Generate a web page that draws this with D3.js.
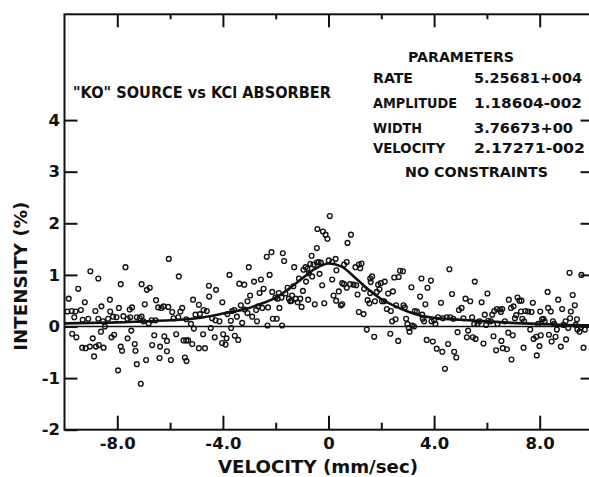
<!DOCTYPE html>
<html><head><meta charset="utf-8">
<script src="https://cdn.jsdelivr.net/npm/d3@7"></script>
<style>body{margin:0;background:#fff;} svg{display:block;}</style>
</head><body><svg id="c" width="589" height="477"></svg>
<script>
const xTickValues = [-8, -4, 0, 4, 8];
const xTickLabels = ["-8.0", "-4.0", "0", "4.0", "8.0"];
const xMinorTicks = [-6, -2, 2, 6];
const yTickValues = [-2, -1, 0, 1, 2, 3, 4];
const yTickLabels = ["-2", "-1", "0", "1", "2", "3", "4"];
const rightTickValues = [-1, 0, 1, 2, 3, 4];
const chartTitle = '"KO" SOURCE vs KCl ABSORBER';
const xTitle = "VELOCITY  (mm/sec)";
const yTitle = "INTENSITY  (%)";
const paramHeader = "PARAMETERS";
const paramNames = ["RATE", "AMPLITUDE", "WIDTH", "VELOCITY"];
const paramValues = ["5.25681+004", "1.18604-002", "3.76673+00", "2.17271-002"];
const paramFooter = "NO CONSTRAINTS";

// measured points: [velocity mm/sec, intensity %]
const spectrumLeft = [[-9.84,0.54],[-9.89,0.29],[-9.73,0.30],[-9.58,0.29],[-9.48,0.73],[-9.38,0.32],[-9.63,0.18],[-9.71,-0.14],[-9.55,-0.21],[-9.33,-0.41],[-9.20,-0.42],[-9.04,-0.39],[-8.88,-0.58],[-8.93,-0.23],[-9.02,1.07],[-8.72,0.93],[-9.23,0.47],[-9.31,0.13],[-9.10,0.15],[-8.83,0.30],[-8.60,0.39],[-8.72,0.15],[-8.81,-0.39],[-8.70,-0.36],[-8.52,-0.41],[-8.62,-0.10],[-8.47,0.00],[-8.54,0.10],[-8.35,0.15],[-8.27,0.29],[-8.28,0.52],[-8.16,0.19],[-8.03,0.18],[-8.22,-0.21],[-8.12,-0.16],[-7.94,0.36],[-7.87,0.82],[-7.69,1.15],[-7.77,0.20],[-7.61,0.15],[-7.51,0.18],[-7.53,0.33],[-7.44,0.37],[-7.47,-0.08],[-7.61,-0.23],[-7.87,-0.39],[-7.82,-0.47],[-7.97,-0.85],[-7.34,-0.34],[-7.31,-0.47],[-7.26,-0.73],[-7.11,-1.11],[-7.26,0.18],[-7.08,0.19],[-7.15,0.16],[-7.01,0.10],[-7.08,0.82],[-6.96,0.43],[-6.88,0.71],[-6.77,0.75],[-6.81,0.06],[-6.70,0.12],[-6.91,-0.65],[-6.60,-0.17],[-6.68,-0.36],[-6.53,0.51],[-6.45,0.37],[-6.33,0.36],[-6.25,0.39],[-6.07,0.38],[-6.55,0.12],[-6.38,-0.39],[-6.40,-0.61],[-6.22,-0.19],[-6.12,-0.28],[-6.12,-0.48],[-5.97,-0.65],[-6.05,1.31],[-5.92,0.28],[-5.87,0.16],[-5.69,0.18],[-5.61,0.29],[-5.54,0.36],[-5.67,0.97],[-5.39,0.14],[-5.77,-0.15],[-5.49,-0.27],[-5.39,-0.27],[-5.32,-0.27],[-5.44,-0.60],[-5.38,-0.67],[-5.16,-0.34],[-5.21,0.05],[-5.10,-0.04],[-5.13,0.52],[-5.04,0.23]];
const spectrumMidLeft = [[-4.91,0.42],[-4.87,0.24],[-4.73,0.32],[-4.61,0.30],[-4.75,-0.15],[-4.91,-0.42],[-4.68,-0.42],[-4.53,0.79],[-4.52,0.58],[-4.46,-0.03],[-4.41,0.16],[-4.31,-0.21],[-4.26,0.71],[-4.28,0.12],[-4.13,0.10],[-4.02,0.47],[-3.99,-0.15],[-4.03,-0.32],[-3.90,-0.35],[-3.86,-0.23],[-3.75,1.00],[-3.83,0.24],[-3.70,0.11],[-3.65,0.30],[-3.69,-0.03],[-3.57,0.32],[-3.55,-0.18],[-3.42,-0.26],[-3.47,0.19],[-3.38,0.83],[-3.32,0.41],[-3.27,0.07],[-3.19,0.81],[-3.17,0.33],[-3.07,0.49],[-3.02,1.15],[-2.97,0.60],[-3.07,0.26],[-2.89,0.19],[-2.82,0.87],[-2.71,0.10],[-2.74,0.32],[-2.66,0.39],[-2.56,0.91],[-2.61,0.65],[-2.51,0.36],[-2.46,0.73],[-2.34,1.35],[-2.16,1.44],[-2.23,1.00],[-2.29,0.37],[-2.31,0.02],[-2.11,0.15],[-2.13,0.67],[-1.96,0.15],[-1.88,0.65],[-1.93,0.54],[-2.01,0.56],[-1.86,0.36],[-1.76,0.02],[-1.73,1.42],[-1.68,1.27],[-1.78,0.56],[-1.63,0.64],[-1.55,0.75],[-1.50,0.54],[-1.45,0.49],[-1.40,0.50],[-1.38,0.60],[-1.30,1.15],[-1.33,0.78],[-1.25,0.54],[-1.17,0.47],[-1.12,0.93],[-1.07,0.54],[-1.02,0.38],[-0.97,0.69],[-0.95,1.10],[-0.87,1.15],[-0.80,1.12],[-0.85,0.87],[-0.74,1.03],[-0.77,0.52],[-0.69,1.21],[-0.64,1.37],[-0.62,0.97],[-0.57,1.20],[-0.52,0.43],[-0.44,1.24],[-0.44,1.52],[-0.37,1.25],[-0.29,1.24],[-0.34,1.02],[-0.24,0.80],[-0.16,0.45],[-0.42,1.89],[-0.21,1.84],[-0.11,1.78]];
const spectrumMidRight = [[-0.04,1.70],[0.05,2.14],[0.01,1.28],[0.14,1.25],[0.27,1.31],[0.30,1.09],[0.14,0.91],[0.19,0.60],[0.29,0.50],[0.39,0.68],[0.47,0.41],[0.52,0.43],[0.52,0.84],[0.59,1.20],[0.69,1.25],[0.59,0.82],[0.72,1.62],[0.85,1.78],[0.69,0.75],[0.82,0.82],[0.95,0.81],[1.02,1.15],[1.10,0.62],[1.05,0.80],[1.15,1.20],[1.20,1.13],[1.25,1.22],[1.15,0.28],[1.33,0.24],[1.35,0.73],[1.48,0.51],[1.45,-0.06],[1.55,0.45],[1.58,0.65],[1.60,0.86],[1.65,0.97],[1.58,0.93],[1.73,-0.20],[1.76,0.49],[1.83,0.67],[1.88,0.81],[1.93,0.72],[1.98,0.84],[2.03,0.49],[2.13,0.87],[2.11,0.49],[2.21,0.34],[2.26,0.64],[2.34,-0.14],[2.36,0.30],[2.44,0.68],[2.41,0.10],[2.49,0.95],[2.54,0.14],[2.64,-0.28],[2.56,0.41],[2.66,0.96],[2.71,1.08],[2.82,1.07],[2.84,0.41],[2.89,0.37],[2.94,0.15],[2.99,0.05],[3.04,-0.03],[3.07,-0.10],[3.17,0.02],[3.24,0.00],[3.14,0.76],[3.27,0.30],[3.35,0.29],[3.47,0.58],[3.52,0.93],[3.55,0.23],[3.57,0.15],[3.62,0.10],[3.67,0.43],[3.72,-0.26],[3.75,0.75],[3.88,0.89],[3.90,0.10],[3.95,-0.29],[4.00,0.12],[4.05,0.05],[4.10,-0.43],[4.15,0.18],[4.26,0.46],[4.31,-0.49],[4.33,0.16],[4.41,-0.82],[4.48,0.18],[4.58,1.11],[4.61,0.18],[4.53,-0.34],[4.68,0.63],[4.73,0.15],[4.76,-0.49],[4.84,-0.60]];
const spectrumRight = [[4.89,-0.11],[4.94,0.32],[5.04,0.36],[5.11,0.16],[5.19,0.54],[5.24,-0.21],[5.29,-0.08],[5.37,0.49],[5.44,0.18],[5.47,-0.21],[5.54,0.87],[5.57,-0.24],[5.52,0.05],[5.64,0.05],[5.72,0.10],[5.80,0.47],[5.87,-0.33],[5.92,0.23],[5.97,0.03],[6.02,0.64],[6.05,0.11],[6.15,0.10],[6.20,0.23],[6.25,-0.19],[6.28,0.30],[6.35,-0.46],[6.38,0.34],[6.40,0.05],[6.50,0.33],[6.53,0.28],[6.55,-0.28],[6.60,-0.42],[6.58,0.34],[6.68,0.10],[6.76,-0.44],[6.81,-0.12],[6.83,0.52],[6.91,0.36],[6.93,-0.64],[6.98,-0.17],[7.01,0.39],[7.06,0.16],[7.11,0.22],[7.16,0.56],[7.23,0.50],[7.29,0.29],[7.31,0.50],[7.39,-0.41],[7.34,0.15],[7.41,0.10],[7.46,0.30],[7.56,0.29],[7.64,-0.06],[7.69,0.28],[7.74,0.46],[7.77,-0.24],[7.87,-0.20],[7.89,-0.56],[7.94,0.05],[7.99,-0.38],[8.02,0.29],[8.04,-0.17],[8.09,0.14],[8.14,0.15],[8.19,0.10],[8.30,0.67],[8.32,0.36],[8.35,-0.16],[8.42,0.29],[8.45,-0.29],[8.50,0.10],[8.55,0.05],[8.60,-0.20],[8.65,-0.06],[8.70,0.52],[8.80,-0.39],[8.85,0.34],[8.90,0.03],[8.98,0.10],[9.00,-0.25],[9.08,-0.03],[9.13,1.04],[9.15,0.16],[9.18,0.29],[9.25,0.61],[9.33,0.41],[9.36,0.03],[9.41,0.14],[9.43,-0.06],[9.51,-0.10],[9.56,-0.02],[9.58,1.00],[9.66,-0.41],[9.71,-0.06]];

// fitted curve: [velocity, intensity]
const fitCurve = [[-10,0.06],[-9,0.07],[-8,0.08],[-7,0.10],[-6,0.12],[-5,0.16],[-4,0.25],[-3,0.36],[-2.5,0.45],[-2,0.56],[-1.5,0.73],[-1,0.93],[-0.5,1.12],[0,1.22],[0.5,1.16],[1,0.95],[1.5,0.72],[2,0.53],[2.5,0.40],[3,0.29],[3.5,0.21],[4,0.17],[5,0.13],[6,0.10],[7,0.07],[8,0.05],[9,0.03],[10,0.02]];

const FONT = "'DejaVu Sans', 'Liberation Sans', sans-serif";
const svg = d3.select("#c");
const x = d3.scaleLinear().domain([-10, 10]).range([64.5, 592.5]);
const y = d3.scaleLinear().domain([-2, 6.05]).range([429.7, 14.3]);

function styleAxis(g, fs) {
  g.select(".domain").remove();
  g.selectAll("line").attr("stroke", "#111").attr("stroke-width", 2);
  g.selectAll("text").attr("font-family", FONT).attr("font-weight", "bold")
    .attr("font-size", fs).attr("fill", "#111");
}

// frame
svg.append("rect").attr("x", x(-10)).attr("y", y(6.05))
  .attr("width", x(10) - x(-10)).attr("height", y(-2) - y(6.05))
  .attr("fill", "none").attr("stroke", "#111").attr("stroke-width", 2);

// bottom axis
svg.append("g").attr("transform", `translate(0,${y(-2)})`)
  .call(d3.axisBottom(x).tickValues(xTickValues).tickFormat((d, i) => xTickLabels[i])
    .tickSizeInner(-14).tickSizeOuter(0).tickPadding(8))
  .call(g => styleAxis(g, 16.5));
svg.append("g").attr("transform", `translate(0,${y(-2)})`)
  .call(d3.axisBottom(x).tickValues(xMinorTicks).tickFormat("").tickSizeInner(-7).tickSizeOuter(0))
  .call(g => styleAxis(g, 16));
// top axis
svg.append("g").attr("transform", `translate(0,${y(6.05)})`)
  .call(d3.axisTop(x).tickValues(xTickValues).tickFormat("").tickSizeInner(-13).tickSizeOuter(0))
  .call(g => styleAxis(g, 16));
svg.append("g").attr("transform", `translate(0,${y(6.05)})`)
  .call(d3.axisTop(x).tickValues(xMinorTicks).tickFormat("").tickSizeInner(-5).tickSizeOuter(0))
  .call(g => styleAxis(g, 16));
// left axis
svg.append("g").attr("transform", `translate(${x(-10)},0)`)
  .call(d3.axisLeft(y).tickValues(yTickValues).tickFormat((d, i) => yTickLabels[i])
    .tickSizeInner(-13).tickSizeOuter(0).tickPadding(4.5))
  .call(g => styleAxis(g, 16.5));
// right axis
svg.append("g").attr("transform", `translate(${x(10)},0)`)
  .call(d3.axisRight(y).tickValues(rightTickValues).tickFormat("").tickSizeInner(-12).tickSizeOuter(0))
  .call(g => styleAxis(g, 16));

// zero line
svg.append("line").attr("x1", x(-10)).attr("x2", x(10)).attr("y1", y(0)).attr("y2", y(0))
  .attr("stroke", "#111").attr("stroke-width", 1.6);

// fit curve
svg.append("path").datum(fitCurve)
  .attr("d", d3.line().x(d => x(d[0])).y(d => y(d[1])).curve(d3.curveMonotoneX))
  .attr("fill", "none").attr("stroke", "#111").attr("stroke-width", 2.6);

// data points
const spectrum = spectrumLeft.concat(spectrumMidLeft, spectrumMidRight, spectrumRight);
svg.append("g").selectAll("circle").data(spectrum).join("circle")
  .attr("cx", d => x(d[0])).attr("cy", d => y(d[1])).attr("r", 2.4)
  .attr("fill", "none").attr("stroke", "#111").attr("stroke-width", 1.35);

// texts
function label(txt, xx, yy, w, fs, anchor) {
  return svg.append("text").attr("x", xx).attr("y", yy).attr("font-family", FONT)
    .attr("font-weight", "bold").attr("font-size", fs).attr("fill", "#111")
    .attr("text-anchor", anchor || "start")
    .attr("textLength", w).attr("lengthAdjust", "spacingAndGlyphs").text(txt);
}
label(chartTitle, 73, 98.3, 258, 15);
label(paramHeader, 408, 62.3, 106, 14.5);
const nameW = [40, 84, 49, 72];
const valW = [108, 108, 99, 111];
const rowBase = [83, 108, 132.5, 153.3];
paramNames.forEach((n, i) => {
  label(n, 373, rowBase[i], nameW[i], 14.5);
  label(paramValues[i], 474, rowBase[i], valW[i], 14.5);
});
label(paramFooter, 405, 177.3, 143, 14.5);

label(xTitle, 218, 472.7, 200, 17.5);
svg.append("text").attr("transform", "translate(26.7,276.2) rotate(-90)")
  .attr("font-family", FONT).attr("font-weight", "bold").attr("font-size", 18)
  .attr("fill", "#111").attr("text-anchor", "middle")
  .attr("textLength", 149).attr("lengthAdjust", "spacingAndGlyphs").text(yTitle);
</script></body></html>
